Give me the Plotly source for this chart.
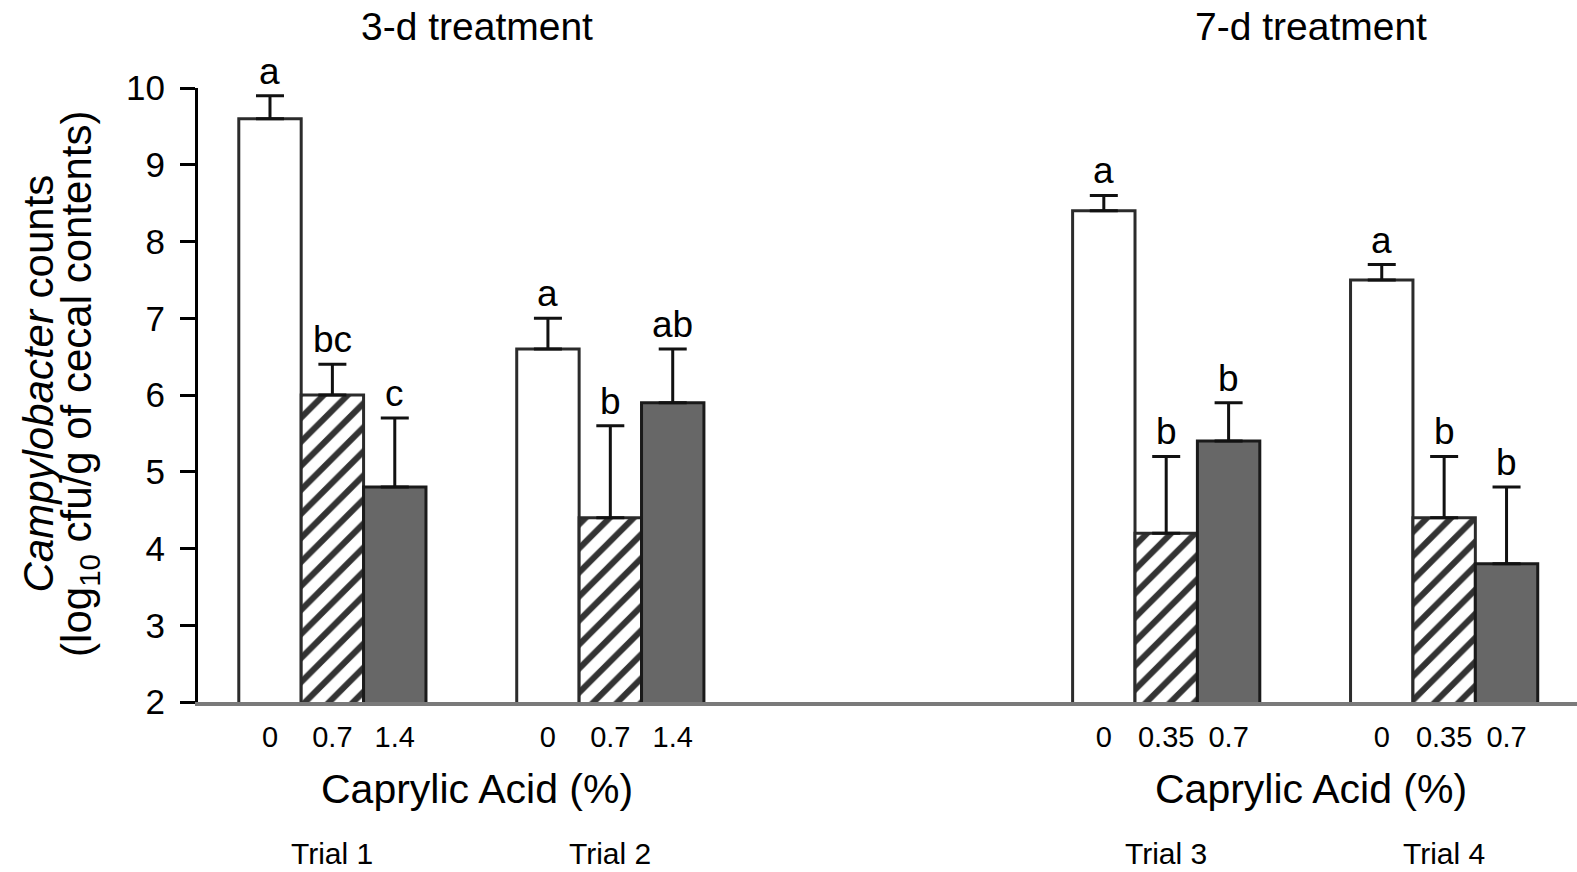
import plotly.graph_objects as go

# ---- data ----
trials = ["Trial 1", "Trial 2", "Trial 3", "Trial 4"]
group_pos = [0, 1, 3, 4]
dose_labels = [["0", "0.7", "1.4"], ["0", "0.7", "1.4"],
               ["0", "0.35", "0.7"], ["0", "0.35", "0.7"]]

control_mean = [9.6, 6.6, 8.4, 7.5]
control_sem = [0.3, 0.4, 0.2, 0.2]
control_letters = ["a", "a", "a", "a"]

low_mean = [6.0, 4.4, 4.2, 4.4]
low_sem = [0.4, 1.2, 1.0, 0.8]
low_letters = ["bc", "b", "b", "b"]

high_mean = [4.8, 5.9, 5.4, 3.8]
high_sem = [0.9, 0.7, 0.5, 1.0]
high_letters = ["c", "ab", "b", "b"]

treatments = ["3-d treatment", "7-d treatment"]

FONT = "Liberation Sans, Arial, Helvetica, sans-serif"
BAR_W = 0.2245
BARGAP = 1 - 3 * BAR_W
EDGE = "#2b2b2b"
Y0, Y1 = 2, 10


def paper_y(v):
    return (v - Y0) / (Y1 - Y0)


fig = go.Figure()

series = [
    (control_mean, control_sem, control_letters,
     dict(color="white", line=dict(color=EDGE, width=3))),
    (low_mean, low_sem, low_letters,
     dict(color="white", line=dict(color=EDGE, width=3),
          pattern=dict(shape="/", fillmode="overlay", fgcolor="#333333",
                       fgopacity=1, size=17, solidity=0.36))),
    (high_mean, high_sem, high_letters,
     dict(color="#676767", line=dict(color="#1a1a1a", width=3))),
]

annotations = []
offsets = [-BAR_W, 0, BAR_W]
for k, (mean, sem, letters, marker) in enumerate(series):
    fig.add_trace(go.Bar(
        x=group_pos, y=mean, marker=marker,
        error_y=dict(type="data", symmetric=False, array=sem,
                     arrayminus=[0] * len(sem), color="#111111",
                     thickness=3, width=14),
        showlegend=False, hoverinfo="skip",
    ))
    for g, m, s, lab in zip(group_pos, mean, sem, letters):
        annotations.append(dict(
            x=g + offsets[k], y=m + s, xref="x", yref="y", text=lab,
            showarrow=False, yanchor="bottom", yshift=2,
            font=dict(family=FONT, size=37, color="black")))

tickvals, ticktext = [], []
for g, labs in zip(group_pos, dose_labels):
    for off, lab in zip(offsets, labs):
        tickvals.append(g + off)
        ticktext.append(lab)

# Treatment headers and x-axis titles (one per pair of trials)
for i, t in enumerate(treatments):
    cx = (group_pos[2 * i] + group_pos[2 * i + 1]) / 2 + 0.02
    annotations.append(dict(x=cx, y=paper_y(10.8), xref="x", yref="paper",
                            text=t, showarrow=False, xanchor="center",
                            yanchor="middle",
                            font=dict(family=FONT, size=39, color="black")))
    annotations.append(dict(x=cx, y=paper_y(0.87), xref="x", yref="paper",
                            text="Caprylic Acid (%)", showarrow=False,
                            xanchor="center", yanchor="middle",
                            font=dict(family=FONT, size=41, color="black")))

for g, tr in zip(group_pos, trials):
    annotations.append(dict(x=g, y=-0.2775, xref="x", yref="paper",
                            text=tr, showarrow=False, xanchor="center",
                            yanchor="bottom",
                            font=dict(family=FONT, size=30, color="black")))

# Y-axis title (two lines)
annotations.append(dict(x=-0.116, y=paper_y(6.15), xref="paper",
                        yref="paper", text="<i>Campylobacter</i> counts",
                        textangle=-90, showarrow=False, xanchor="center",
                        yanchor="middle",
                        font=dict(family=FONT, size=42, color="black")))
annotations.append(dict(x=-0.086, y=paper_y(6.15), xref="paper",
                        yref="paper",
                        text="(log<sub>10</sub> cfu/g of cecal contents)",
                        textangle=-90, showarrow=False, xanchor="center",
                        yanchor="middle",
                        font=dict(family=FONT, size=42, color="black")))

fig.update_layout(
    width=1577, height=872,
    margin=dict(l=198, r=0, t=88, b=170),
    paper_bgcolor="white", plot_bgcolor="white",
    barmode="group", bargap=BARGAP, bargroupgap=0,
    annotations=annotations,
    xaxis=dict(range=[-0.4835, 4.478], tickmode="array", tickvals=tickvals,
               ticktext=ticktext, ticks="", showgrid=False, zeroline=False,
               showline=True, linecolor="#7a7a7a", linewidth=4,
               ticklabelstandoff=6,
               tickfont=dict(family=FONT, size=29, color="black")),
    yaxis=dict(range=[Y0, Y1], tickmode="array",
               tickvals=[2, 3, 4, 5, 6, 7, 8, 9, 10],
               ticks="outside", ticklen=15, tickwidth=3, tickcolor="black",
               showgrid=False, zeroline=False, showline=True,
               linecolor="black", linewidth=3, ticklabelstandoff=8,
               tickfont=dict(family=FONT, size=35, color="black")),
)

fig.write_html("out.html")
